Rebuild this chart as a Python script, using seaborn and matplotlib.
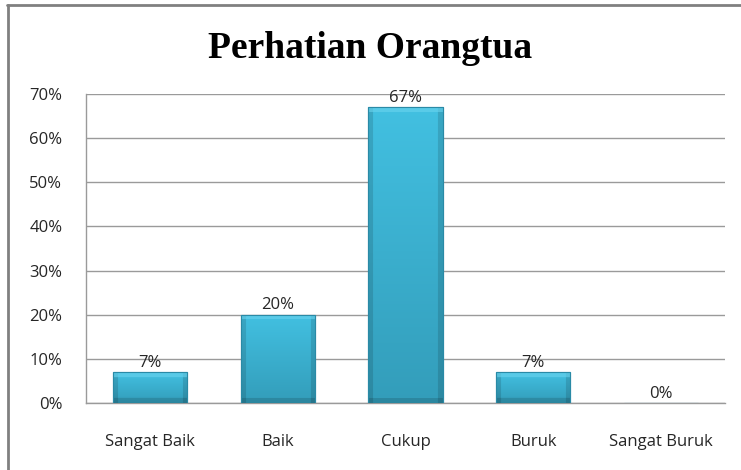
import matplotlib
matplotlib.use("Agg")
import matplotlib.pyplot as plt
import seaborn as sns
import numpy as np
import pandas as pd
from matplotlib.lines import Line2D
from matplotlib.colors import to_rgb

categories = ["Sangat Baik", "Baik", "Cukup", "Buruk", "Sangat Buruk"]
values = [0.07, 0.20, 0.67, 0.07, 0.00]
labels = ["7%", "20%", "67%", "7%", "0%"]
yticks = [0.0, 0.1, 0.2, 0.3, 0.4, 0.5, 0.6, 0.7]
ytick_labels = ["0%", "10%", "20%", "30%", "40%", "50%", "60%", "70%"]
title = "Perhatian Orangtua"

sns.set_theme(style="white")
plt.rcParams["font.family"] = ["Open Sans", "DejaVu Sans"]

df = pd.DataFrame({"cat": categories, "val": values})

fig = plt.figure(figsize=(7.41, 4.70), dpi=100)
ax_left, ax_bottom = 86/741, 1-403/470
ax_w, ax_h = (725-86)/741, (403-94)/470
ax = fig.add_axes([ax_left, ax_bottom, ax_w, ax_h])

sns.barplot(data=df, x="cat", y="val", ax=ax, color="#3ab5d6", width=0.58,
            edgecolor="#2a8aa6", linewidth=0.8, zorder=3)

ymax = 0.70
ax.set_ylim(0, ymax)
ax.set_xlim(-0.5, len(categories) - 0.5)
ax.set_yticks(yticks)
ax.set_yticklabels(ytick_labels, fontsize=12, color="#262626")
ax.set_xticks(range(len(categories)))
ax.set_xticklabels(categories, fontsize=12, color="#262626")
ax.tick_params(axis="y", length=0, pad=17)
ax.tick_params(axis="x", length=0, pad=22)
ax.set_xlabel("")
ax.set_ylabel("")
ax.yaxis.grid(True, color="#9a9a9a", linewidth=1.0, zorder=0)
ax.set_axisbelow(True)
for s in ["top", "right"]:
    ax.spines[s].set_visible(False)
for s in ["left", "bottom"]:
    ax.spines[s].set_color("#9a9a9a")
    ax.spines[s].set_linewidth(1.0)

# bevelled gradient fill on bars
top_c = np.array(to_rgb("#42c0e1"))
bot_c = np.array(to_rgb("#339dba"))
hi_c = np.array(to_rgb("#6ad3ee"))
px_per_unit = ax_h * 470 / ymax
for p in ax.patches:
    x0, y0 = p.get_x(), p.get_y()
    w, h = p.get_width(), p.get_height()
    if h <= 0:
        continue
    hp = max(int(h * px_per_unit), 2)
    wp = 74
    ty = np.linspace(0, 1, hp)[:, None]
    img = top_c[None, None, :] * (1 - ty[..., None]) + bot_c[None, None, :] * ty[..., None]
    img = np.repeat(img, wp, axis=1)
    xs = np.arange(wp)
    bev = 5
    side = (xs < bev) | (xs >= wp - bev)
    img[:, side, :] *= 0.87
    img[:bev, :, :] = img[:bev, :, :] * 0.4 + hi_c * 0.6
    img[-bev:, :, :] *= 0.86
    im = ax.imshow(img, extent=[x0, x0 + w, y0, y0 + h], aspect="auto",
                   zorder=3.5, origin="upper", interpolation="bilinear")
    im.set_clip_path(p)
    ax.add_patch(plt.Rectangle((x0, y0), w, h, facecolor="none",
                               edgecolor="#2a8aa6", linewidth=0.8, zorder=3.7))
ax.set_xlim(-0.5, len(categories) - 0.5)
ax.set_ylim(0, ymax)

for i, (v, lab) in enumerate(zip(values, labels)):
    ax.text(i, v + 0.003, lab, ha="center", va="bottom", fontsize=12,
            color="#262626", zorder=5)

fig.text(0.5, 1 - 49/470, title, ha="center", va="center",
         fontsize=27, fontweight="bold", family="Liberation Serif",
         color="black")

fig.add_artist(Line2D([8/741, 8/741], [0, 1 - 5/470], transform=fig.transFigure,
                      color="#808080", linewidth=2))
fig.add_artist(Line2D([7/741, 1], [1 - 5/470, 1 - 5/470], transform=fig.transFigure,
                      color="#808080", linewidth=2))

fig.savefig("out.png", dpi=100)
